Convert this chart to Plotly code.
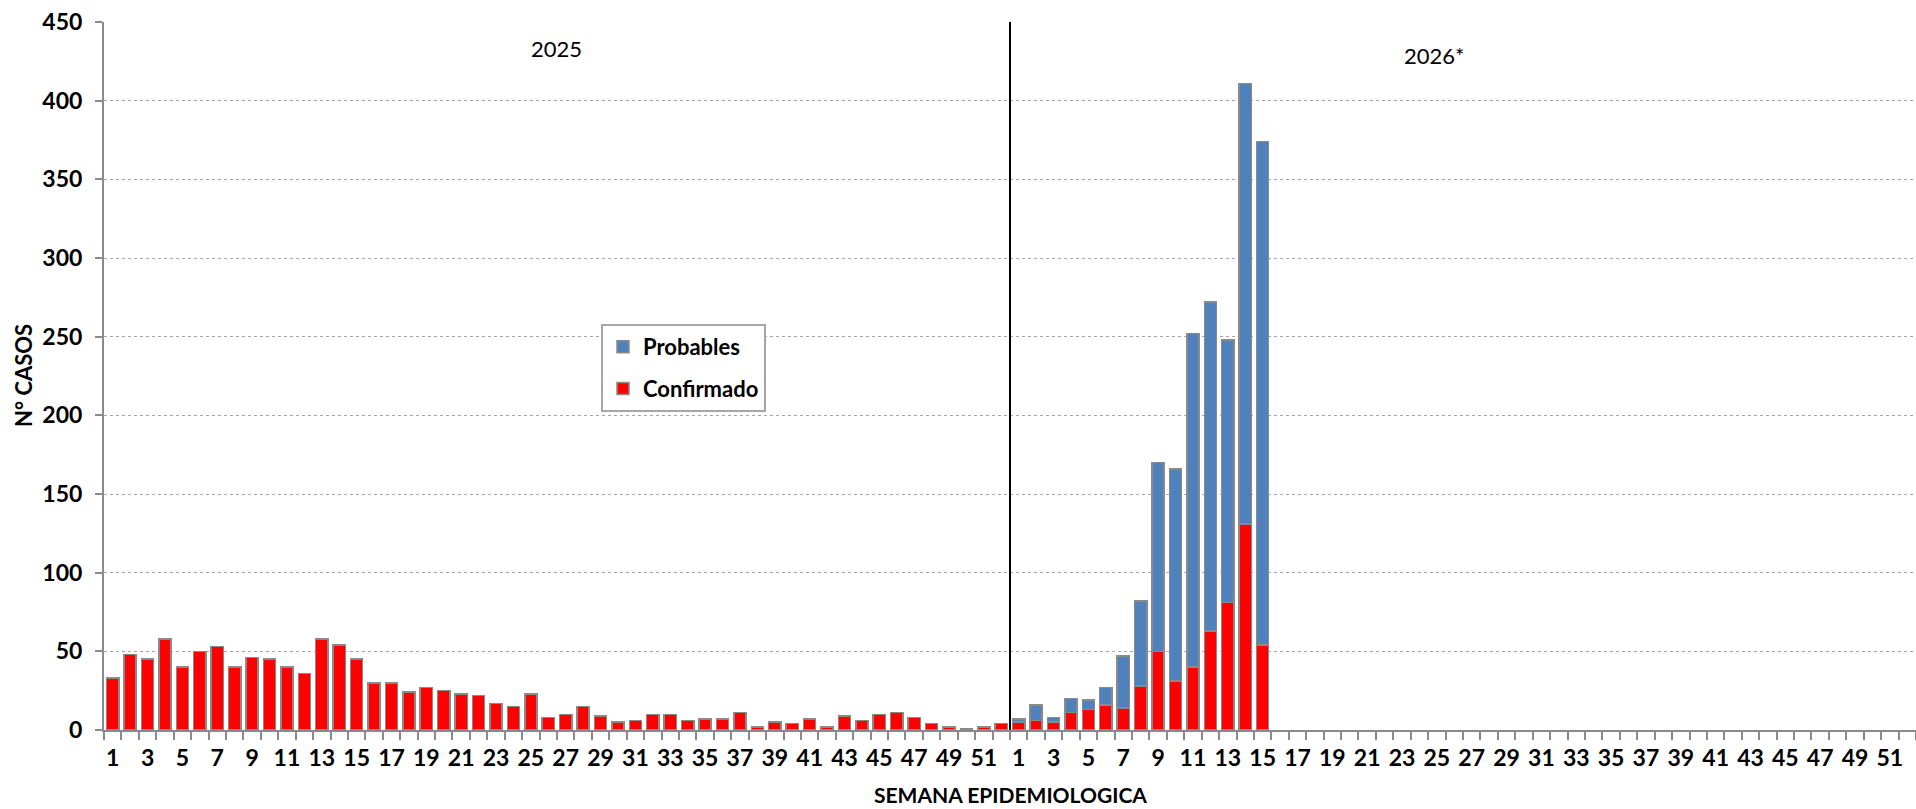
import plotly.graph_objects as go

# ---- data ----
weeks_2025 = list(range(1, 53))
confirmado_2025 = [33, 48, 45, 58, 40, 50, 53, 40, 46, 45, 40, 36, 58, 54, 45, 30, 30, 24, 27, 25,
                   23, 22, 17, 15, 23, 8, 10, 15, 9, 5, 6, 10, 10, 6, 7, 7, 11, 2, 5, 4,
                   7, 2, 9, 6, 10, 11, 8, 4, 2, 1, 2, 4]
weeks_2026 = list(range(1, 53))
confirmado_2026 = [5, 6, 5, 11, 13, 16, 14, 28, 50, 31, 40, 63, 81, 131, 54]
probables_2026 = [2, 10, 3, 9, 6, 11, 33, 54, 120, 135, 212, 209, 167, 280, 320]

n25 = len(weeks_2025)
x_2025 = [w - 1 for w in weeks_2025]
x_2026_all = [n25 + w - 1 for w in weeks_2026]
x_2026 = x_2026_all[:len(confirmado_2026)]

tickvals = [x for x, w in zip(x_2025, weeks_2025) if w % 2 == 1] + \
           [x for x, w in zip(x_2026_all, weeks_2026) if w % 2 == 1]
ticktext = [str(w) for w in weeks_2025 if w % 2 == 1] + [str(w) for w in weeks_2026 if w % 2 == 1]
ncat = n25 + len(weeks_2026)
boundaries = [i - 0.5 for i in range(ncat + 1)]

RED = "#FF0000"
BLUE = "#4F81BD"
EDGE = "#8a8a8a"
FONT = "Lato"

fig = go.Figure()
fig.add_trace(go.Bar(x=x_2025 + x_2026, y=confirmado_2025 + confirmado_2026, name="Confirmado",
                     legendgroup="c", legendrank=2,
                     marker=dict(color=RED, line=dict(color=EDGE, width=1.5)), width=0.7))
fig.add_trace(go.Bar(x=x_2026, y=probables_2026, name="Probables", legendgroup="p", legendrank=1,
                     marker=dict(color=BLUE, line=dict(color=EDGE, width=1.5)), width=0.7))

fig.update_layout(
    width=1916, height=809,
    margin=dict(l=104, r=0, t=22, b=79, autoexpand=False),
    barmode="stack",
    plot_bgcolor="white", paper_bgcolor="white",
    font=dict(family=FONT, color="black"),
    showlegend=True,
    legend=dict(x=(601 - 104) / 1812, y=(730 - 324) / 708, xanchor="left", yanchor="top",
                traceorder="grouped", bgcolor="white",
                bordercolor="#a6a6a6", borderwidth=2,
                font=dict(family=FONT, size=22, color="black", weight="bold"),
                tracegroupgap=10, itemwidth=30),
    xaxis=dict(range=[-0.5, ncat - 0.5], showgrid=False, zeroline=False, automargin=False,
               showline=True, linecolor=EDGE, linewidth=2,
               tickmode="array", tickvals=tickvals, ticktext=ticktext,
               ticks="outside", ticklen=8, tickcolor="rgba(0,0,0,0)",
               ticklabelstandoff=-2,
               tickfont=dict(family=FONT, size=23, color="black", weight="bold"),
               minor=dict(tickmode="array", tickvals=boundaries, ticks="outside",
                          ticklen=8, tickwidth=2, tickcolor=EDGE, showgrid=False)),
    yaxis=dict(range=[0, 450], dtick=50, showgrid=True, gridcolor="#a6a6a6",
               griddash="dot", gridwidth=1, zeroline=False, automargin=False,
               showline=True, linecolor=EDGE, linewidth=2,
               ticks="outside", ticklen=7, tickwidth=2, tickcolor=EDGE,
               ticklabelstandoff=8,
               tickfont=dict(family=FONT, size=23, color="black", weight="bold")),
    bargap=0.3,
)

# divider between years
fig.add_shape(type="line", xref="x", yref="paper", x0=n25 - 0.5, x1=n25 - 0.5, y0=0, y1=1,
              line=dict(color="black", width=2))

fig.add_annotation(text="2025", xref="paper", yref="paper", x=(556 - 104) / 1812,
                   y=(730 - 48) / 708, xanchor="center", yanchor="middle",
                   showarrow=False, font=dict(family=FONT, size=22, color="black"))
fig.add_annotation(text="2026*", xref="paper", yref="paper", x=(1434 - 104) / 1812,
                   y=(730 - 56) / 708, xanchor="center", yanchor="middle",
                   showarrow=False, font=dict(family=FONT, size=22, color="black"))
fig.add_annotation(text="SEMANA EPIDEMIOLOGICA", xref="paper", yref="paper", x=0.5,
                   y=(730 - 795) / 708, showarrow=False, xanchor="center", yanchor="middle",
                   font=dict(family=FONT, size=21, color="black", weight="bold"))
fig.add_annotation(text="N° CASOS", xref="paper", yref="paper", x=(23 - 104) / 1812, y=0.5,
                   showarrow=False, textangle=-90, xanchor="center", yanchor="middle",
                   font=dict(family=FONT, size=22, color="black", weight="bold"))

fig.write_html("out.html", config={"displayModeBar": False},
               post_script="document.body.style.margin='0';")
